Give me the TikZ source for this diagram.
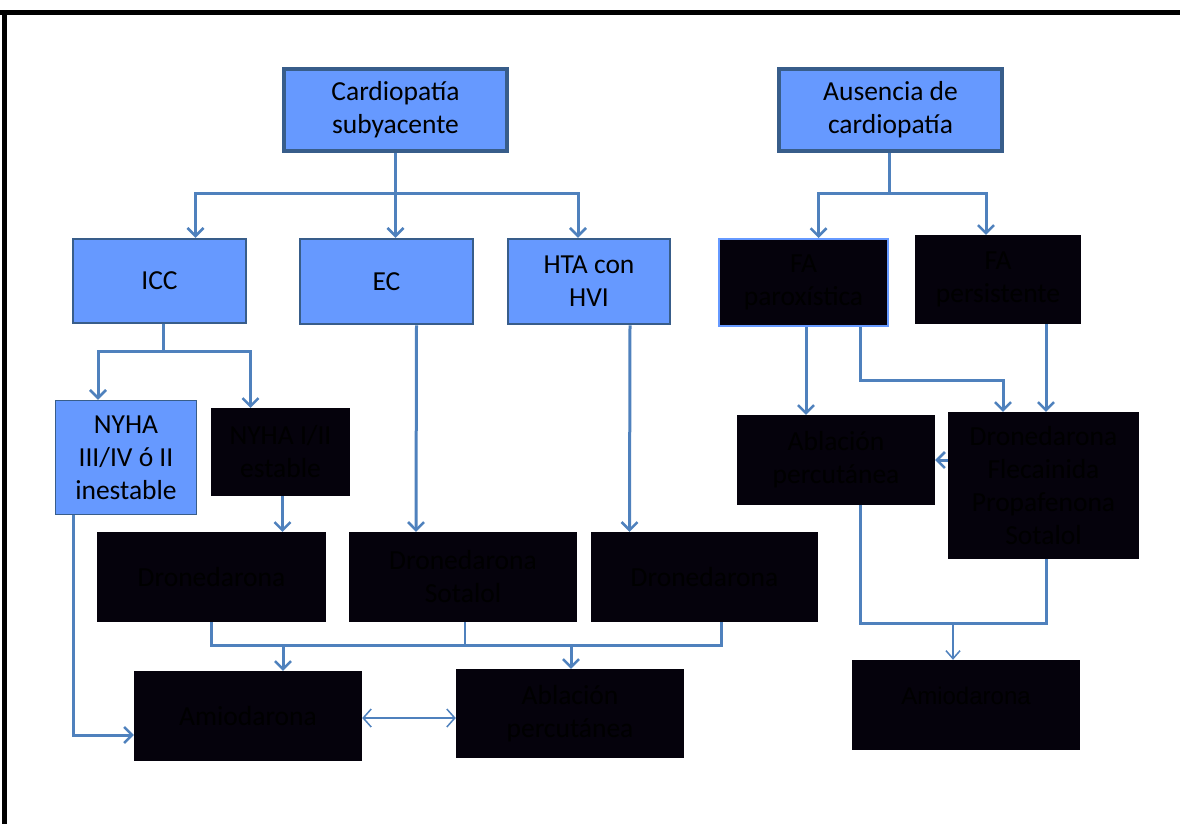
\documentclass[tikz,border=0pt]{standalone}
\usepackage{fontspec}
\setmainfont{Carlito}
\newfontfamily\arialfont{Liberation Sans}
\usepackage{tikz}
\usetikzlibrary{arrows.meta}

\definecolor{boxblue}{RGB}{102,153,255}
\definecolor{edgeblue}{RGB}{56,93,138}
\definecolor{lineblue}{RGB}{79,129,189}
\definecolor{nearblack}{RGB}{5,2,12}

\begin{document}
\begin{tikzpicture}[x=1pt,y=-1pt,
    every node/.style={font=\fontsize{27.5}{33}\selectfont,align=center,inner sep=2pt},
    topbox/.style={draw=edgeblue,line width=4pt,fill=boxblue,minimum width=223pt,minimum height=82pt},
    bluebox/.style={draw=edgeblue,line width=2.5pt,fill=boxblue},
    darkbox/.style={fill=nearblack,text=black},
    conn/.style={draw=lineblue,line width=3pt},
    tip/.style={-{Straight Barb[length=8pt,width=16pt,line width=2.5pt]}}]

    \useasboundingbox (0,0) rectangle (1180,823);
    % outer frame
    \draw[line width=5pt] (0,12) -- (1185,12);
    \draw[line width=5pt] (4,12) -- (4,830);

    % top row
    \node[topbox]              (cardio) at (395.5,110)   {Cardiopatía\\subyacente};
    \node[topbox]              (ausen) at (890.5,110)    {Ausencia de\\cardiopatía};

    % second row
    \node[bluebox,minimum width=173pt,minimum height=84pt]   (icc) at (159.5,281)   {ICC};
    \node[bluebox,minimum width=173pt,minimum height=85pt]   (ec) at (386.5,281.5)  {EC};
    \node[bluebox,minimum width=162pt,minimum height=85pt]   (hta) at (589,281.5)   {HTA con\\HVI};
    \node[darkbox,draw=boxblue,line width=2pt,minimum width=169pt,minimum height=87pt] (fapar) at (803.5,282.5) {FA\\paroxística};
    \node[darkbox,minimum width=166pt,minimum height=89pt]   (fapers) at (998,279.5) {FA\\persistente};

    % third row
    \node[bluebox,line width=1.5pt,minimum width=141pt,minimum height=114pt] (nyhaiii) at (126,457.5) {NYHA\\III/IV ó II\\inestable};
    \node[darkbox,minimum width=139pt,minimum height=88pt]   (nyhai) at (280.5,452)  {NYHA I/II\\estable};
    \node[darkbox,minimum width=198pt,minimum height=90pt]   (ablaci) at (836,460)   {Ablación\\percutánea};
    \node[darkbox,minimum width=191pt,minimum height=147pt]  (dronfle) at (1043.5,485.5) {Dronedarona\\Flecainida\\Propafenona\\Sotalol};

    % fourth row
    \node[darkbox,minimum width=229pt,minimum height=90pt]   (drona) at (211.5,577)  {Dronedarona};
    \node[darkbox,minimum width=228pt,minimum height=90pt]   (dronsot) at (463,577)  {Dronedarona\\Sotalol};
    \node[darkbox,minimum width=227pt,minimum height=90pt]   (dronb) at (704.5,577)  {Dronedarona};

    % bottom row
    \node[darkbox,minimum width=228pt,minimum height=90pt]   (amioa) at (248,716)    {Amiodarona};
    \node[darkbox,minimum width=228pt,minimum height=89pt]   (ablacii) at (570,713.5) {Ablación\\percutánea};
    \node[darkbox,minimum width=228pt,minimum height=90pt,text depth=18pt,font=\arialfont\fontsize{24}{30}\selectfont] (amiob) at (966,705) {Amiodarona};

    % cardiopatia subyacente
    \coordinate (cs) at (397,193);
    \draw[conn,tip] (cardio.south) -- (cardio.south |- ec.north);
    \draw[conn,tip] (cs) -| ([xshift=36pt]icc.north);
    \draw[conn,tip] (cs) -| ([xshift=-11pt]hta.north);

    % ausencia de cardiopatia
    \coordinate (ac) at (889,193);
    \draw[conn] (ac |- ausen.south) -- (ac);
    \draw[conn,tip] (ac) -| ([xshift=15pt]fapar.north);
    \draw[conn,tip] (ac) -| ([xshift=-12pt]fapers.north);

    % ICC
    \coordinate (ic) at (163,351);
    \draw[conn] (ic |- icc.south) -- (ic);
    \draw[conn,tip] (ic) -| ([xshift=-28pt]nyhaiii.north);
    \draw[conn,tip] (ic) -| ([xshift=-30pt]nyhai.north);

    \draw[conn,tip] ([xshift=2pt]nyhai.south) -- ([xshift=71pt]drona.north);
    \draw[conn,tip] ([xshift=30pt]ec.south) -- ([xshift=-47pt]dronsot.north);
    \draw[conn,tip] ([xshift=41pt]hta.south) -- ([xshift=-75pt]dronb.north);

    % dronedarona -> amiodarona / ablacion
    \coordinate (dj) at (465,645);
    \draw[conn] (drona.south) |- (dj);
    \draw[conn,line width=1.5pt] ([xshift=2pt]dronsot.south) -- (dj);
    \draw[conn] ([xshift=17pt]dronb.south) |- (dj);
    \draw[conn,tip] (283,645) -- ([xshift=35pt]amioa.north);
    \draw[conn,tip] (571,645) -- ([xshift=1pt]ablacii.north);
    \draw[conn,tip] ([xshift=-53pt]nyhaiii.south) |- ([yshift=-19pt]amioa.west);
    \draw[conn,line width=1.5pt,{Straight Barb[length=8pt,width=18pt,line width=1.5pt]}-{Straight Barb[length=8pt,width=18pt,line width=1.5pt]}]
        ([yshift=-2pt]amioa.east) -- ([yshift=-2pt]amioa.east -| ablacii.west);

    % FA
    \draw[conn,tip] ([xshift=2.5pt]fapar.south) -- ([xshift=-30pt]ablaci.north);
    \draw[conn,tip] ([xshift=56.5pt]fapar.south) |- (980,380) -| ([xshift=-40.5pt]dronfle.north);
    \draw[conn,tip] ([xshift=48pt]fapers.south) -- ([xshift=2.5pt]dronfle.north);
    \draw[conn,tip] (dronfle.west |- ablaci.east) -- (ablaci.east);

    % a amiodarona
    \coordinate (fj) at (953,623);
    \draw[conn] ([xshift=24pt]ablaci.south) |- (fj);
    \draw[conn] ([xshift=2.5pt]dronfle.south) |- (fj);
    \draw[conn,line width=1.5pt,-{Straight Barb[length=8pt,width=14pt,line width=1.5pt]}] (fj) -- ([xshift=-13pt]amiob.north);
\end{tikzpicture}
\end{document}
